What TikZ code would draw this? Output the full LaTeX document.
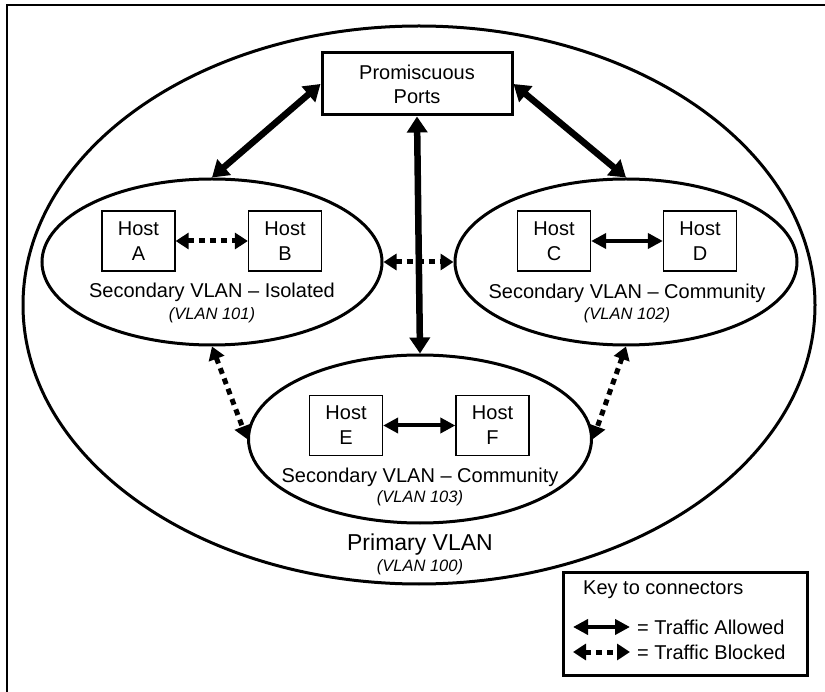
\documentclass[tikz,border=0pt]{standalone}
\usepackage{fontspec}
\setmainfont{Liberation Sans}
\usetikzlibrary{shapes.geometric,arrows.meta}
\begin{document}
\begin{tikzpicture}[x=1pt,y=-1pt,
  txt/.style={font=\fontsize{20}{24}\selectfont, inner sep=0pt},
  sub/.style={font=\fontsize{16.5}{20}\selectfont\itshape, inner sep=0pt},
  hostbox/.style={draw, line width=1.3pt, minimum width=73pt, minimum height=60pt,
    align=center, font=\fontsize{20}{25}\selectfont, inner sep=0pt},
  vlan/.style={draw, ellipse, line width=3pt, inner sep=0pt},
  allow/.style={line width=4pt,
    {Triangle[length=15pt,width=15pt]}-{Triangle[length=15pt,width=15pt]}},
  trunk/.style={line width=6.5pt,
    {Triangle[length=16pt,width=20pt]}-{Triangle[length=16pt,width=20pt]}},
  block/.style={line width=5pt, dash pattern=on 6pt off 5pt,
    {Triangle[length=13pt,width=16pt]}-{Triangle[length=13pt,width=16pt]}},
]
\useasboundingbox (0,0) rectangle (825,692);

% outer frame (right and bottom edges run off the page)
\draw[line width=1.5pt] (7,700) -- (7,5) -- (830,5);

% primary VLAN
\node[vlan, minimum width=792pt, minimum height=558pt] (primary) at (419,305) {};
\node[font=\fontsize{23}{27}\selectfont, inner sep=0pt] (tprim) at (420,545) {Primary VLAN};
\node[sub] (vprim) at (420,567) {(VLAN 100)};

% promiscuous ports
\node[draw, line width=3pt, minimum width=190pt, minimum height=62pt, align=center,
  font=\fontsize{20}{24}\selectfont, inner sep=0pt] (prom) at (417,84) {Promiscuous\\Ports};

% secondary VLANs
\node[vlan, minimum width=340pt, minimum height=166pt] (e101) at (212,262) {};
\node[vlan, minimum width=342pt, minimum height=166pt] (e102) at (626,262) {};
\node[vlan, minimum width=343pt, minimum height=168pt] (e103) at (420,439) {};

\node[txt] (t101) at (212,292) {Secondary VLAN – Isolated};
\node[sub] (v101) at (212,315) {(VLAN 101)};
\node[txt] (t102) at (627,293) {Secondary VLAN – Community};
\node[sub] (v102) at (627,315) {(VLAN 102)};
\node[txt] (t103) at (420,477) {Secondary VLAN – Community};
\node[sub] (v103) at (420,498) {(VLAN 103)};

% hosts
\node[hostbox] (hA) at (138.5,241) {Host\\A};
\node[hostbox] (hB) at (285,241) {Host\\B};
\node[hostbox] (hC) at (554,241) {Host\\C};
\node[hostbox] (hD) at (700,241) {Host\\D};
\node[hostbox] (hE) at (346,425.5) {Host\\E};
\node[hostbox] (hF) at (492.5,425.5) {Host\\F};

% connectors
\draw[trunk] (e101.north) -- (prom.west);
\draw[trunk] (e102.north) -- (prom.east);
\draw[trunk] (prom.south) -- (e103.north);

\draw[block] (hA.east) -- (hB.west);
\draw[allow] (hC.east) -- (hD.west);
\draw[allow] (hE.east) -- (hF.west);

\draw[block] (e101.east) -- (e102.west);
\draw[block] (e101.south) -- (e103.west);
\draw[block] (e102.south) -- (e103.east);

% key
\node[draw, line width=3pt, minimum width=244pt, minimum height=103pt] (key) at (685,623.5) {};
\node[txt, anchor=west] (ktitle) at (583,590) {Key to connectors};
\coordinate (ka1) at (573,627);
\coordinate (ka2) at (630,627);
\coordinate (kb1) at (573,652);
\coordinate (kb2) at (630,652);
\draw[allow] (ka1) -- (ka2);
\draw[block] (kb1) -- (kb2);
\node[txt, anchor=west] (kallow) at (637,627) {= Traffic Allowed};
\node[txt, anchor=west] (kblock) at (637,652) {= Traffic Blocked};
\end{tikzpicture}
\end{document}
